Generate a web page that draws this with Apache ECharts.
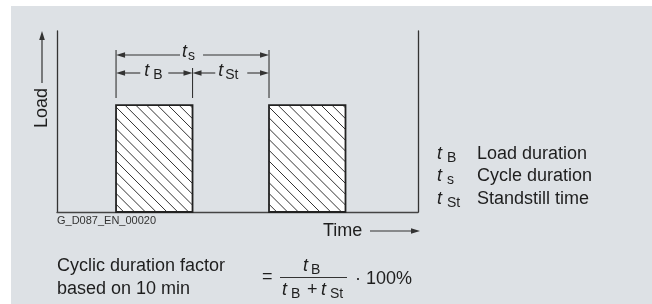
<!DOCTYPE html>
<html>
<head>
<meta charset="utf-8">
<script src="https://cdn.jsdelivr.net/npm/echarts@6/dist/echarts.min.js"></script>
<style>
html,body{margin:0;padding:0;background:#fff;}
#chart{width:652px;height:304px;}
</style>
</head>
<body>
<div id="chart"></div>
<script>
// ---- data (time in minutes, load relative) ----
const pulseStarts = [3.86, 13.86];     // start of each load period
const loadDuration = 5;                // t_B
const cycleDuration = 10;              // t_s
const loadLevel = 0.59;                // load during t_B
const timeMax = 23.6;
const loadMax = 1;

const legendSymbols = ['B', 's', 'St'];
const legendTexts = ['Load duration', 'Cycle duration', 'Standstill time'];
const axisNames = ['Load', 'Time'];
const figureCode = 'G_D087_EN_00020';
const factorText = ['Cyclic duration factor', 'based on 10 min'];

// ---- build ----
const FONT = '"Liberation Sans", Arial, sans-serif';
const INK = '#1e1e1e';
const LINE = '#333';
const BG = '#dde1e5';

const pulseData = pulseStarts.map(s => [s, s + loadDuration, loadLevel]);

function txt(x, base, str, size, opts) {
  opts = opts || {};
  return {
    type: 'text', z: 100, silent: true,
    style: {
      x: x, y: base - 0.35 * size, text: str,
      font: (opts.italic ? 'italic ' : '') + size + 'px ' + FONT,
      fill: opts.fill || INK,
      textAlign: opts.align || 'left',
      textVerticalAlign: 'middle'
    }
  };
}
function tSub(x, base, sub, subX) {
  return [txt(x, base, 't', 18, {italic: true}), txt(subX, base + 3, sub, 14)];
}
function arrow(x, y, dir) { // tip at x,y
  const L = 9, W = 2.8;
  let pts;
  if (dir === 'left') pts = [[x, y], [x + L, y - W], [x + L, y + W]];
  else if (dir === 'right') pts = [[x, y], [x - L, y - W], [x - L, y + W]];
  else if (dir === 'up') pts = [[x, y], [x - W, y + L], [x + W, y + L]];
  return {type: 'polygon', shape: {points: pts}, style: {fill: LINE}};
}
function seg(x1, y1, x2, y2, w) {
  return {type: 'line', shape: {x1: x1, y1: y1, x2: x2, y2: y2}, style: {stroke: LINE, lineWidth: w || 1.1}};
}

const graphics = [
  {type: 'rect', z: 100, silent: true, shape: {x: 0, y: 0, width: 652, height: 6}, style: {fill: '#fff'}},
  {type: 'rect', z: 100, silent: true, shape: {x: 0, y: 0, width: 11, height: 304}, style: {fill: '#fff'}},
  // Load label rotated
  {type: 'text', z: 100, silent: true, x: 42, y: 108, rotation: Math.PI / 2,
   style: {x: 0, y: 0, text: axisNames[0], font: '18px ' + FONT, fill: INK, textAlign: 'center', textVerticalAlign: 'middle'}},
  Object.assign(seg(42, 83, 42, 38, 1.2), {z: 100}),
  Object.assign(arrow(42, 31, 'up'), {z: 100}),
  // Time label
  txt(323, 237, axisNames[1], 18),
  Object.assign(seg(370, 231, 412, 231, 1.2), {z: 100}),
  Object.assign(arrow(420, 231, 'right'), {z: 100}),
  txt(57, 225, figureCode, 11, {fill: '#333'}),
  txt(57, 272, factorText[0], 18),
  txt(57, 295, factorText[1], 18),
  // formula
  txt(262, 283, '=', 18),
  Object.assign(seg(280, 277.5, 347, 277.5, 1.2), {z: 100}),
  ...tSub(303, 272, 'B', 311),
  ...tSub(282, 296.5, 'B', 291),
  txt(307, 296.5, '+', 18),
  ...tSub(321, 296.5, 'St', 330),
  txt(355, 285, '\u00b7 100%', 18)
];
legendSymbols.forEach((s, i) => {
  const base = [160, 182.5, 205][i];
  graphics.push(...tSub(437, base, s, 447));
  graphics.push(txt(477, base, legendTexts[i], 18));
});
graphics.forEach(g => { if (g.z === undefined) g.z = 100; });

function renderPulse(params, api) {
  const tl = api.coord([api.value(0), api.value(2)]);
  const br = api.coord([api.value(1), 0]);
  const x1 = tl[0], y1 = tl[1], x2 = br[0], y2 = br[1];
  const children = [{type: 'rect', shape: {x: x1, y: y1, width: x2 - x1, height: y2 - y1}, style: {fill: '#fff'}}];
  const sp = 10.8;
  const k0 = y1 - (x1 + 9);
  const kmin = y1 - x2, kmax = y2 - x1;
  for (let n = Math.ceil((kmin - k0) / sp); n <= Math.floor((kmax - k0) / sp); n++) {
    const k = k0 + n * sp;
    const xa = Math.max(x1, y1 - k), xb = Math.min(x2, y2 - k);
    if (xb - xa > 0.5) children.push({type: 'line', shape: {x1: xa, y1: xa + k, x2: xb, y2: xb + k}, style: {stroke: '#333', lineWidth: 1}});
  }
  children.push({type: 'rect', shape: {x: x1, y: y1, width: x2 - x1, height: y2 - y1}, style: {fill: 'none', stroke: '#222', lineWidth: 1.8}});
  return {type: 'group', children: children};
}

function renderDims(params, api) {
  const top = api.coord([0, loadMax])[1];
  const xs = api.coord([pulseStarts[0], 0])[0];
  const xe = api.coord([pulseStarts[0] + loadDuration, 0])[0];
  const xn = api.coord([pulseStarts[0] + cycleDuration, 0])[0];
  const yS = top + 24, yB = top + 42;
  const c = [];
  c.push(seg(xs, top + 19, xs, top + 67));
  c.push(seg(xn, top + 19, xn, top + 67));
  c.push(seg(xe, top + 37, xe, top + 67));
  // t_s
  const ms = (xs + xn) / 2;
  c.push(seg(xs + 6, yS, ms - 12.5, yS), seg(ms + 10.5, yS, xn - 6, yS));
  c.push(arrow(xs, yS, 'left'), arrow(xn, yS, 'right'));
  // t_B
  const mb = (xs + xe) / 2;
  c.push(seg(xs + 6, yB, mb - 14, yB), seg(mb + 14, yB, xe - 6, yB));
  c.push(arrow(xs, yB, 'left'), arrow(xe, yB, 'right'));
  // t_St
  const mt = (xe + xn) / 2;
  c.push(seg(xe + 6, yB, mt - 15.5, yB), seg(mt + 16.5, yB, xn - 6, yB));
  c.push(arrow(xe, yB, 'left'), arrow(xn, yB, 'right'));
  // labels
  c.push(...tSub(ms - 10.5, top + 27.5, 's', ms - 4.5));
  c.push(...tSub(mb - 10, top + 46, 'B', mb - 1));
  c.push(...tSub(mt - 12.5, top + 46, 'St', mt - 5.5));
  return {type: 'group', children: c};
}

const chart = echarts.init(document.getElementById('chart'));
chart.setOption({
  animation: false,
  backgroundColor: BG,
  grid: {left: 57, top: 31, width: 361, height: 181},
  xAxis: {type: 'value', min: 0, max: timeMax,
    axisLine: {show: true, lineStyle: {color: '#444', width: 1.3}},
    axisTick: {show: false}, axisLabel: {show: false}, splitLine: {show: false}},
  yAxis: [
    {type: 'value', min: 0, max: loadMax,
      axisLine: {show: true, lineStyle: {color: '#333', width: 1.3}},
      axisTick: {show: false}, axisLabel: {show: false}, splitLine: {show: false}},
    {type: 'value', min: 0, max: loadMax, position: 'right',
      axisLine: {show: true, lineStyle: {color: '#333', width: 1.3}},
      axisTick: {show: false}, axisLabel: {show: false}, splitLine: {show: false}}
  ],
  series: [
    {type: 'custom', data: pulseData, renderItem: renderPulse, z: 3, silent: true},
    {type: 'custom', data: [[0, 0]], renderItem: renderDims, z: 4, silent: true}
  ],
  graphic: graphics
});
</script>
</body>
</html>
